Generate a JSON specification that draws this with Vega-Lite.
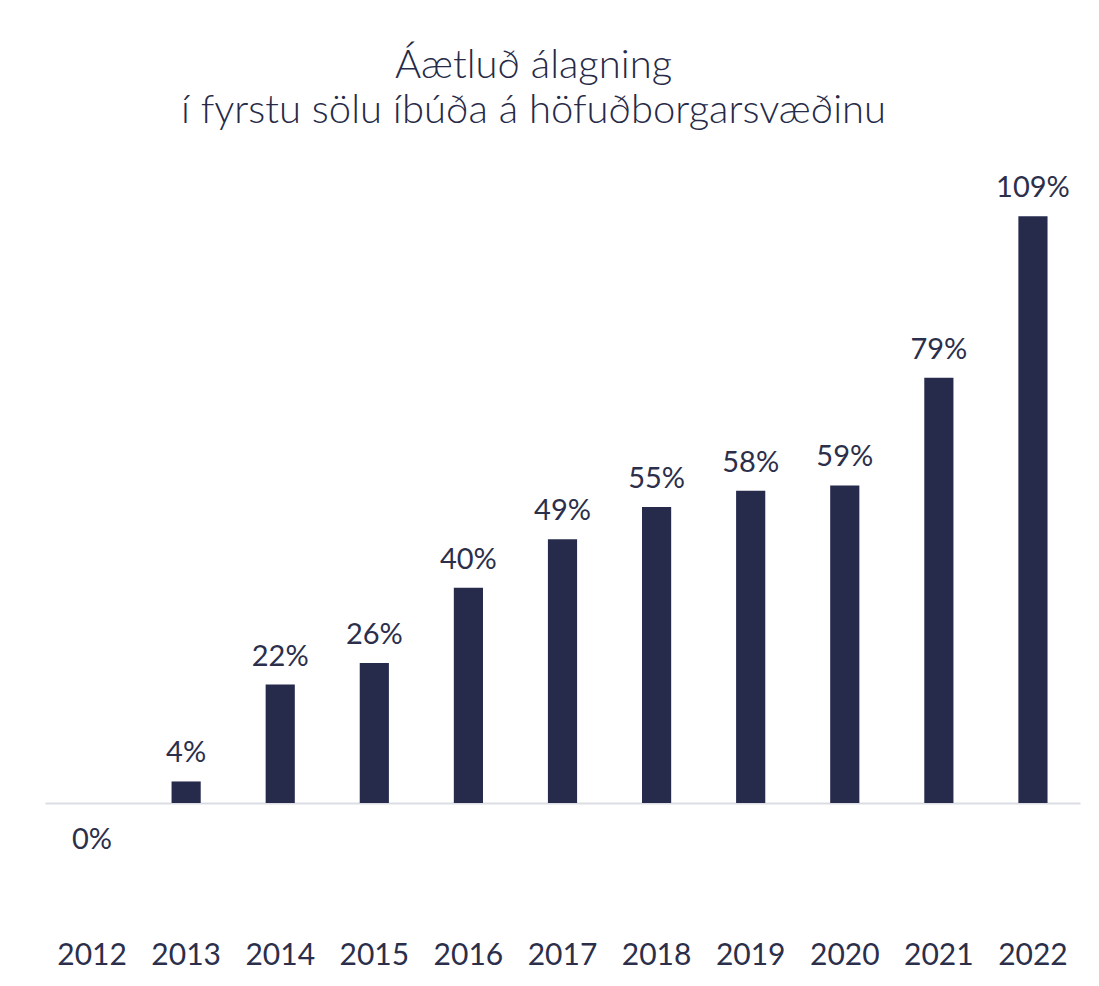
{
  "$schema": "https://vega.github.io/schema/vega-lite/v6.json",
  "autosize": "none",
  "width": 1035,
  "height": 619,
  "padding": {"left": 45, "top": 184, "right": 19, "bottom": 183},
  "background": "white",
  "config": {"view": {"stroke": null}, "font": "Lato"},
  "title": {
    "text": ["Áætluð álagning", "í fyrstu sölu íbúða á höfuðborgarsvæðinu"],
    "fontSize": 40,
    "fontWeight": 300,
    "color": "#262a48",
    "anchor": "middle",
    "dx": -29,
    "offset": 43,
    "lineHeight": 45
  },
  "data": {
    "values": [
      {"year": "2012", "value": 0, "label": "0%"},
      {"year": "2013", "value": 4, "label": "4%"},
      {"year": "2014", "value": 22, "label": "22%"},
      {"year": "2015", "value": 26, "label": "26%"},
      {"year": "2016", "value": 40, "label": "40%"},
      {"year": "2017", "value": 49, "label": "49%"},
      {"year": "2018", "value": 55, "label": "55%"},
      {"year": "2019", "value": 58, "label": "58%"},
      {"year": "2020", "value": 59, "label": "59%"},
      {"year": "2021", "value": 79, "label": "79%"},
      {"year": "2022", "value": 109, "label": "109%"}
    ]
  },
  "encoding": {
    "x": {
      "field": "year",
      "type": "ordinal",
      "scale": {"paddingInner": 0.69, "paddingOuter": 0.345},
      "axis": {
        "title": null,
        "labelAngle": 0,
        "ticks": false,
        "domainColor": "#dcdde3",
        "domainWidth": 2,
        "labelFontSize": 30,
        "labelColor": "#2b2f4b",
        "labelPadding": 137,
        "labelBaseline": "top"
      }
    },
    "y": {
      "field": "value",
      "type": "quantitative",
      "scale": {"domain": [0, 115]},
      "axis": null
    }
  },
  "layer": [
    {"mark": {"type": "bar", "color": "#262b4c"}},
    {
      "transform": [{"filter": "datum.value > 0"}],
      "mark": {"type": "text", "baseline": "bottom", "dy": -13, "fontSize": 29, "color": "#2b2f4b"},
      "encoding": {"text": {"field": "label"}}
    },
    {
      "transform": [{"filter": "datum.value == 0"}],
      "mark": {"type": "text", "baseline": "top", "dy": 23, "fontSize": 29, "color": "#2b2f4b"},
      "encoding": {"text": {"field": "label"}}
    }
  ]
}
